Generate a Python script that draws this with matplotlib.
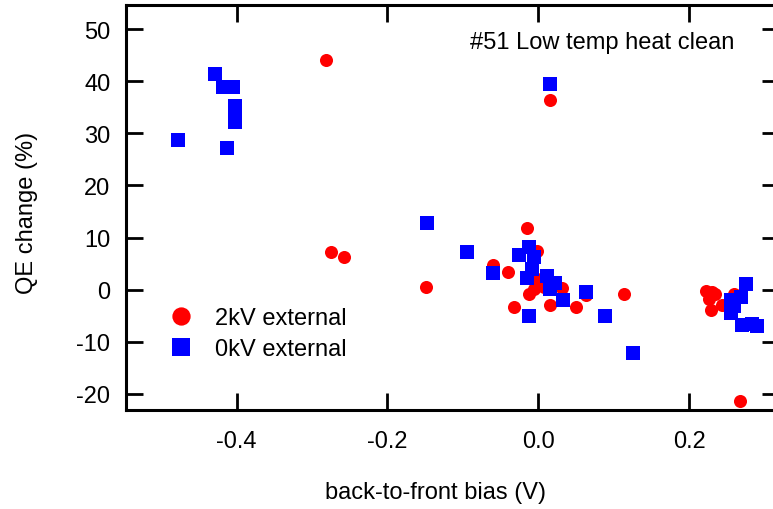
import matplotlib
matplotlib.use('Agg')
import matplotlib.pyplot as plt

plt.rcParams['font.family'] = ['Liberation Sans', 'DejaVu Sans']
plt.rcParams['axes.unicode_minus'] = False

# 2kV external (red circles)
bias_2kv = [-0.282, -0.275, -0.258, -0.149, -0.060, -0.040, -0.032, -0.015, -0.002,
            -0.002, -0.005, -0.012, 0.008, 0.016, 0.016, 0.032, 0.050, 0.063, 0.114,
            0.223, 0.230, 0.234, 0.227, 0.229, 0.243, 0.259, 0.268]
qe_2kv = [44.1, 7.3, 6.3, 0.6, 4.8, 3.3, -3.4, 11.9, 7.4,
          2.0, 0.1, -0.9, 0.5, 36.4, -3.0, 0.3, -3.4, -1.1, -0.9,
          -0.2, -0.5, -0.9, -1.8, -3.9, -2.9, -0.9, -21.3]

# 0kV external (blue squares)
bias_0kv = [-0.477, -0.428, -0.418, -0.405, -0.413, -0.402, -0.402, -0.402, -0.148,
            -0.095, -0.060, -0.025, -0.012, -0.005, -0.008, -0.015, -0.012, 0.012,
            0.016, 0.016, 0.022, 0.033, 0.063, 0.088, 0.125, 0.256, 0.256, 0.259,
            0.269, 0.275, 0.270, 0.283, 0.290]
qe_0kv = [28.8, 41.4, 38.9, 38.9, 27.2, 35.3, 33.7, 32.1, 12.8,
          7.2, 3.2, 6.7, 8.2, 6.3, 4.0, 2.2, -5.0, 2.6,
          39.5, 0.1, 1.2, -2.0, -0.4, -5.0, -12.2, -2.0, -4.4, -3.1,
          -1.4, 1.1, -6.8, -6.6, -7.0]

xticks = [-0.4, -0.2, 0.0, 0.2]
yticks = [-20, -10, 0, 10, 20, 30, 40, 50]

fs = 17

fig = plt.figure(figsize=(7.73, 5.10), dpi=100)
ax = fig.add_axes([0.1626, 0.194, 0.845, 0.794])

ax.plot(bias_2kv, qe_2kv, 'o', color='#ff0000', markersize=9.4, markeredgewidth=0,
        label='2kV external')
ax.plot(bias_0kv, qe_0kv, 's', color='#0000ff', markersize=9.4, markeredgewidth=0,
        label='0kV external')

ax.set_xlim(-0.547, 0.319)
ax.set_ylim(-23.1, 54.6)
ax.set_xticks(xticks)
ax.set_xticklabels(['%.1f' % t for t in xticks])
ax.set_yticks(yticks)

for s in ax.spines.values():
    s.set_linewidth(2.2)
ax.tick_params(direction='in', length=12, width=2, top=True, right=True,
               labelsize=fs, pad=14)
ax.tick_params(axis='y', pad=11)

ax.set_xlabel('back-to-front bias (V)', fontsize=fs)
ax.set_ylabel('QE change (%)', fontsize=fs)
ax.xaxis.set_label_coords(0.475, -0.175)
ax.yaxis.set_label_coords(-0.134, 0.49)

ax.text(0.729, 0.909, '#51 Low temp heat clean', transform=ax.transAxes,
        ha='center', va='center', fontsize=fs)

ax.legend(loc='center left', bbox_to_anchor=(0.0666, 0.189), frameon=False,
          fontsize=fs, handlelength=1, borderpad=0, handletextpad=0.94,
          labelspacing=0.385, borderaxespad=0, markerscale=1.4)

plt.savefig('out.png')
